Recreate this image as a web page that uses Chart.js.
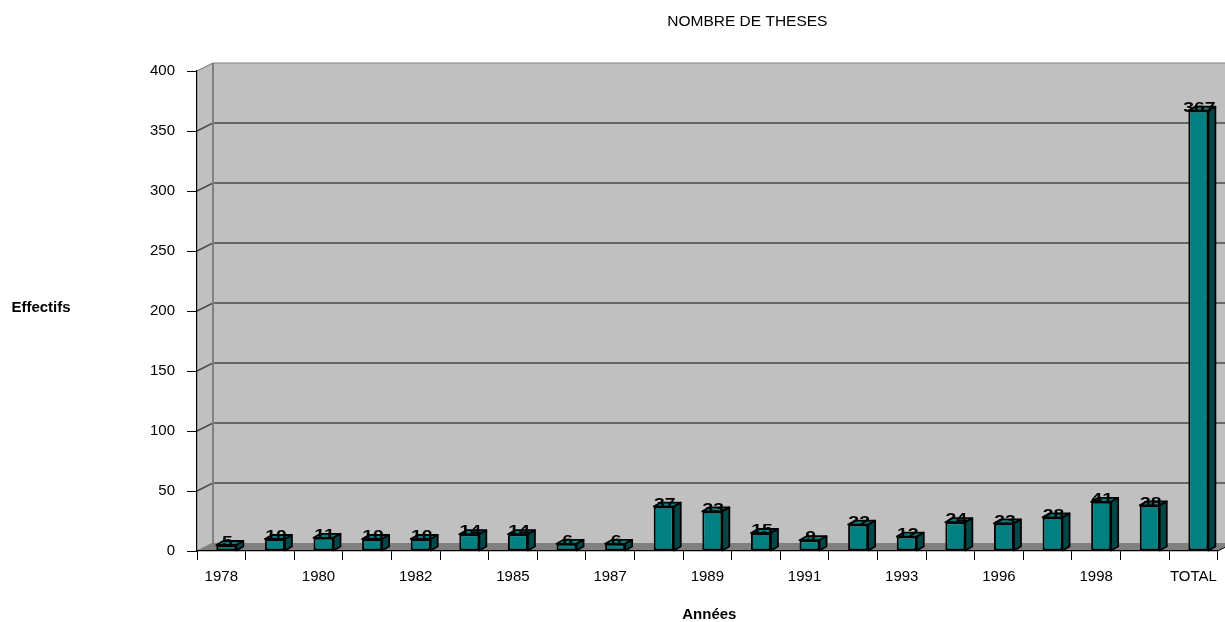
<!DOCTYPE html>
<html>
<head>
<meta charset="utf-8">
<title>Nombre de thèses</title>
<style>
  html, body { margin: 0; padding: 0; background: #ffffff; }
  #wrap { width: 1225px; height: 622px; }
</style>
<script src="https://cdn.jsdelivr.net/npm/chart.js@4/dist/chart.umd.min.js"></script>
</head>
<body>
<div id="wrap"><canvas id="chart" width="1225" height="622"></canvas></div>
<script>
// Categories (years of defence, plus the overall total)
const years = ['1978', '1979', '1980', '1981', '1982', '1984', '1985', '1986', '1987', '1988',
               '1989', '1990', '1991', '1992', '1993', '1995', '1996', '1997', '1998', '1999', 'TOTAL'];
// Number of theses per category
const theses = [5, 10, 11, 10, 10, 14, 14, 6, 6, 37, 33, 15, 9, 22, 12, 24, 23, 28, 41, 38, 367];
// Value axis
const yMin = 0;
const yMax = 400;
const yStep = 50;

const chartTitle = 'NOMBRE DE THESES';
const yTitle = 'Effectifs';
const xTitle = 'Années';

const FONT = '"Liberation Sans", Arial, Helvetica, sans-serif';

// Depth of the box (walls / floor) and of each column
const BOX_DX = 16, BOX_DY = 8;
const BAR_DX = 7, BAR_DY = 4;
const BAR_SHIFT = 5;

const WALL = '#c0c0c0';
const FLOOR = '#808080';
const EDGE = '#808080';
const GRID = '#4a4a4a';
const BAR_FRONT = '#008080';
const BAR_TOP = '#008080';
const BAR_SIDE = '#004848';

function poly(ctx, pts, fill, stroke, lw) {
  ctx.beginPath();
  ctx.moveTo(pts[0][0], pts[0][1]);
  for (let i = 1; i < pts.length; i++) ctx.lineTo(pts[i][0], pts[i][1]);
  ctx.closePath();
  if (fill) { ctx.fillStyle = fill; ctx.fill(); }
  if (stroke) { ctx.strokeStyle = stroke; ctx.lineWidth = lw || 1; ctx.lineJoin = 'round'; ctx.stroke(); }
}

function line(ctx, pts, color, lw) {
  ctx.beginPath();
  ctx.moveTo(pts[0][0], pts[0][1]);
  for (let i = 1; i < pts.length; i++) ctx.lineTo(pts[i][0], pts[i][1]);
  ctx.strokeStyle = color;
  ctx.lineWidth = lw;
  ctx.stroke();
}

// Back wall, side wall, floor and the gridlines on the walls
const boxPlugin = {
  id: 'box3d',
  beforeDraw(chart) {
    const { ctx, chartArea: a, scales: { y } } = chart;
    const L = a.left, R = a.right, T = a.top, B = a.bottom;
    ctx.save();
    // back wall
    poly(ctx, [[L + BOX_DX, T - BOX_DY], [R + BOX_DX, T - BOX_DY], [R + BOX_DX, B - BOX_DY], [L + BOX_DX, B - BOX_DY]], WALL);
    // side wall
    poly(ctx, [[L, T], [L + BOX_DX, T - BOX_DY], [L + BOX_DX, B - BOX_DY], [L, B]], WALL);
    // floor
    poly(ctx, [[L, B], [R, B], [R + BOX_DX, B - BOX_DY], [L + BOX_DX, B - BOX_DY]], FLOOR);
    // gridlines
    for (let v = yMin + yStep; v < yMax; v += yStep) {
      const yf = y.getPixelForValue(v);
      line(ctx, [[L, yf], [L + BOX_DX, yf - BOX_DY], [R + BOX_DX, yf - BOX_DY]], GRID, 1.6);
    }
    // wall edges
    line(ctx, [[L, T], [L + BOX_DX, T - BOX_DY], [R + BOX_DX, T - BOX_DY]], EDGE, 1.2);
    line(ctx, [[L + BOX_DX, T - BOX_DY], [L + BOX_DX, B - BOX_DY]], EDGE, 2);
    line(ctx, [[L, B], [L + BOX_DX, B - BOX_DY]], EDGE, 1.2);
    ctx.restore();
  },
  afterDraw(chart) {
    const { ctx, chartArea: a } = chart;
    ctx.save();
    // floor edge continuing the category axis towards the back
    line(ctx, [[a.right, a.bottom], [a.right + BOX_DX, a.bottom - BOX_DY]], '#000', 1);
    // titles
    ctx.fillStyle = '#000';
    ctx.textAlign = 'center';
    ctx.textBaseline = 'middle';
    ctx.font = '15.5px ' + FONT;
    ctx.fillText(chartTitle, (a.left + a.right) / 2 + 40, 22);
    ctx.font = 'bold 15px ' + FONT;
    ctx.fillText(yTitle, 41, (a.top + a.bottom) / 2 - 3);
    ctx.fillText(xTitle, (a.left + a.right) / 2 + 2, 615);
    ctx.restore();
  }
};

// Columns: shift them to mid-depth, then add top and side faces and value labels
const columnPlugin = {
  id: 'columns3d',
  beforeDatasetsDraw(chart) {
    chart.ctx.save();
    chart.ctx.translate(BAR_SHIFT, 0);
  },
  afterDatasetsDraw(chart) {
    const ctx = chart.ctx;
    const meta = chart.getDatasetMeta(0);
    meta.data.forEach((bar) => {
      const p = bar.getProps(['x', 'y', 'base', 'width'], true);
      const xl = p.x - p.width / 2, xr = p.x + p.width / 2;
      poly(ctx, [[xl, p.y], [xl + BAR_DX, p.y - BAR_DY], [xr + BAR_DX, p.y - BAR_DY], [xr, p.y]], BAR_TOP, '#000', 1.8);
      poly(ctx, [[xr, p.y], [xr + BAR_DX, p.y - BAR_DY], [xr + BAR_DX, p.base - BAR_DY], [xr, p.base]], BAR_SIDE, '#000', 1.8);
    });
    meta.data.forEach((bar, i) => {
      const p = bar.getProps(['x', 'y'], true);
      ctx.save();
      ctx.translate(p.x + 1, p.y - 3);
      ctx.scale(1.25, 1);
      ctx.fillStyle = '#000';
      ctx.font = 'bold 15.5px ' + FONT;
      ctx.textAlign = 'center';
      ctx.textBaseline = 'middle';
      ctx.fillText(String(theses[i]), 0, 0);
      ctx.restore();
    });
    ctx.restore();
  }
};

new Chart(document.getElementById('chart'), {
  type: 'bar',
  data: {
    labels: years,
    datasets: [{
      label: chartTitle,
      data: theses,
      backgroundColor: BAR_FRONT,
      borderColor: '#000',
      borderWidth: 2,
      borderSkipped: false,
      barPercentage: 0.515,
      categoryPercentage: 0.8
    }]
  },
  options: {
    responsive: false,
    animation: false,
    devicePixelRatio: 1,
    layout: { padding: { left: 0, right: 7, top: 71, bottom: 0 } },
    plugins: {
      legend: { display: false },
      title: { display: false },
      tooltip: { enabled: false }
    },
    scales: {
      x: {
        type: 'category',
        offset: true,
        grid: { offset: true, drawOnChartArea: false, drawTicks: true, tickLength: 9, color: '#000', lineWidth: 1 },
        border: { display: true, color: '#000', width: 1.2 },
        ticks: {
          autoSkip: false,
          maxRotation: 0,
          minRotation: 0,
          color: '#000',
          padding: 8,
          font: { family: FONT, size: 15 },
          callback: (v, i) => (i % 2 === 0 ? years[i] : '')
        },
        afterFit: (s) => { s.height = 71; }
      },
      y: {
        min: yMin,
        max: yMax,
        grid: { drawOnChartArea: false, drawTicks: true, tickLength: 10, color: '#000', lineWidth: 1 },
        border: { display: true, color: '#000', width: 1.2 },
        ticks: {
          stepSize: yStep,
          color: '#000',
          padding: 12,
          font: { family: FONT, size: 15 }
        },
        afterFit: (s) => { s.width = 197; }
      }
    }
  },
  plugins: [boxPlugin, columnPlugin]
});
</script>
</body>
</html>
